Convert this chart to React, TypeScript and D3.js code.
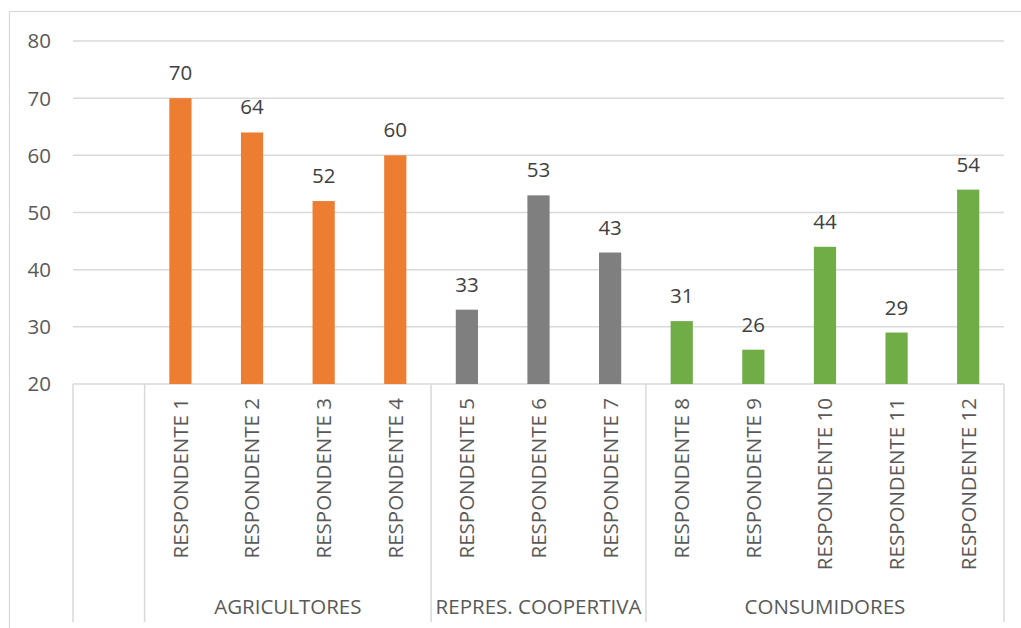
import React from "react";
import * as d3 from "d3";

const categories = ["", "RESPONDENTE 1", "RESPONDENTE 2", "RESPONDENTE 3", "RESPONDENTE 4", "RESPONDENTE 5", "RESPONDENTE 6", "RESPONDENTE 7", "RESPONDENTE 8", "RESPONDENTE 9", "RESPONDENTE 10", "RESPONDENTE 11", "RESPONDENTE 12"];
const values: (number | null)[] = [null, 70, 64, 52, 60, 33, 53, 43, 31, 26, 44, 29, 54];
const groupOf = ["", "AGRICULTORES", "AGRICULTORES", "AGRICULTORES", "AGRICULTORES", "REPRES. COOPERTIVA", "REPRES. COOPERTIVA", "REPRES. COOPERTIVA", "CONSUMIDORES", "CONSUMIDORES", "CONSUMIDORES", "CONSUMIDORES", "CONSUMIDORES"];
const groupLabels = ["", "AGRICULTORES", "REPRES. COOPERTIVA", "CONSUMIDORES"];
const groupColors: Record<string, string> = {
  "": "#ffffff",
  AGRICULTORES: "#ED7D31",
  "REPRES. COOPERTIVA": "#7F7F7F",
  CONSUMIDORES: "#70AD47",
};
const yTicks = [20, 30, 40, 50, 60, 70, 80];

const W = 1021;
const H = 628;
const left = 73;
const right = 1004;
const top = 41;
const bottom = 384;
const axisBottom = 622;
const font = "'Open Sans', sans-serif";
const fs = 20.5;
const textColor = "#595959";
const labelColor = "#404040";
const gridColor = "#D9D9D9";

export default function App() {
  const keys = categories.map((c, i) => `${i}`);
  const slot = d3.scaleBand<string>().domain(keys).range([left, right]).padding(0);
  const x = d3.scaleBand<string>().domain(keys).range([left, right]).paddingInner(0.69).paddingOuter(0.345);
  const y = d3.scaleLinear().domain([20, 80]).range([bottom, top]);

  const bounds: { label: string; x0: number; x1: number }[] = [];
  groupLabels.forEach((g) => {
    const idx = groupOf.map((v, i) => (v === g ? i : -1)).filter((i) => i >= 0);
    const x0 = slot(keys[idx[0]])!;
    const x1 = slot(keys[idx[idx.length - 1]])! + slot.bandwidth();
    bounds.push({ label: g, x0, x1 });
  });
  const sepXs = Array.from(new Set(bounds.flatMap((b) => [b.x0, b.x1])));

  return (
    <svg width={W} height={H} style={{ position: "absolute", left: 0, top: 0 }} fontFamily={font}>
      <rect x={0} y={0} width={W} height={H} fill="#fff" />
      <rect x={9.5} y={11.5} width={W + 10} height={H + 10} fill="none" stroke={gridColor} strokeWidth={1.2} />
      {yTicks.map((t) => (
        <g key={t}>
          <line x1={left} x2={right} y1={y(t)} y2={y(t)} stroke={gridColor} strokeWidth={1.5} />
          <text x={51} y={y(t)} dy="0.36em" textAnchor="end" fontSize={fs} fill={textColor}>
            {t}
          </text>
        </g>
      ))}
      {values.map((v, i) =>
        v == null ? null : (
          <g key={i}>
            <rect
              x={x(keys[i])}
              y={y(v)}
              width={x.bandwidth()}
              height={y(20) - y(v)}
              fill={groupColors[groupOf[i]]}
            />
            <text
              x={x(keys[i])! + x.bandwidth() / 2}
              y={y(v) - 18}
              textAnchor="middle"
              fontSize={fs}
              fill={labelColor}
            >
              {v}
            </text>
          </g>
        )
      )}
      {categories.map((c, i) => {
        const cx = slot(keys[i])! + slot.bandwidth() / 2;
        return (
          <text
            key={i}
            transform={`translate(${cx},398) rotate(-90)`}
            textAnchor="end"
            dy="0.36em"
            fontSize={fs}
            fill={textColor}
          >
            {c}
          </text>
        );
      })}
      {sepXs.map((sx, i) => (
        <line key={i} x1={sx} x2={sx} y1={bottom} y2={axisBottom} stroke={gridColor} strokeWidth={1.5} />
      ))}
      {bounds.map((b, i) => (
        <text key={i} x={(b.x0 + b.x1) / 2} y={614} textAnchor="middle" fontSize={fs} fill={textColor}>
          {b.label}
        </text>
      ))}
    </svg>
  );
}
